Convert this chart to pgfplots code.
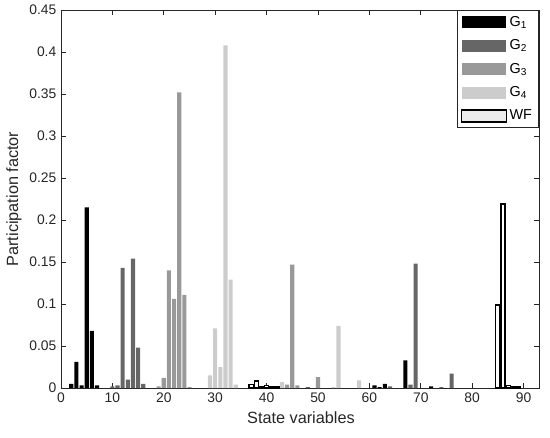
\documentclass[border=0pt]{standalone}
\usepackage{pgfplots}
\pgfplotsset{compat=1.18}
\usepackage{fontspec}
\setmainfont{Liberation Sans}
\definecolor{axc}{RGB}{38,38,38}
\definecolor{gA}{RGB}{0,0,0}
\definecolor{gB}{RGB}{102,102,102}
\definecolor{gC}{RGB}{153,153,153}
\definecolor{gD}{RGB}{204,204,204}
\begin{document}
\begin{tikzpicture}
\begin{axis}[
  scale only axis,
  width=358.5pt, height=283.5pt,
  xmin=0, xmax=93, ymin=0, ymax=0.45,
  xtick={0,10,...,90},
  ytick={0,0.05,...,0.45},
  scaled y ticks=false,
  yticklabel style={/pgf/number format/fixed, /pgf/number format/precision=2},
  /pgf/number format/assume math mode=true,
  tick label style={font=\fontsize{10.4}{12}\selectfont, text=axc},
  axis line style={axc, line width=0.5pt},
  tick style={axc, line width=0.5pt},
  major tick length=3.5pt,
  tick align=inside,
  xlabel={State variables},
  ylabel={Participation factor},
  every axis x label/.style={at={(axis description cs:0.502,-0.0794)}, anchor=center,
    font=\fontsize{12.2}{14}\selectfont, text=axc},
  every axis y label/.style={at={(axis description cs:-0.0983,0.5)}, rotate=90, anchor=center,
    font=\fontsize{12.2}{14}\selectfont, text=axc},
  legend style={at={(axis description cs:1,1)}, anchor=north east, draw=axc, line width=0.5pt,
    font=\fontsize{10.8}{12}\selectfont, inner xsep=3pt, inner ysep=2.5pt, row sep=4.5pt},
  legend cell align=left,
]
\addplot[ybar, bar width=0.8, bar shift=0pt, fill=gA, draw=none,
  legend image code/.code={\fill[gA] (0pt,-4.5pt) rectangle (33.5pt,4.5pt);}]
  coordinates {(2,0.005) (3,0.031) (4,0.003) (5,0.215) (6,0.068) (7,0.003)
    (61,0.003) (62,0.001) (63,0.005) (67,0.033) (72,0.002)};
\addlegendentry{G\textsubscript{1}}
\addplot[ybar, bar width=0.8, bar shift=0pt, fill=gB, draw=none,
  legend image code/.code={\fill[gB] (0pt,-4.5pt) rectangle (33.5pt,4.5pt);}]
  coordinates {(10,0.002) (11,0.003) (12,0.143) (13,0.010) (14,0.154) (15,0.048) (16,0.005)
    (48,0.001) (64,0.002) (68,0.004) (69,0.148) (74,0.001) (76,0.017)};
\addlegendentry{G\textsubscript{2}}
\addplot[ybar, bar width=0.8, bar shift=0pt, fill=gC, draw=none,
  legend image code/.code={\fill[gC] (0pt,-4.5pt) rectangle (33.5pt,4.5pt);}]
  coordinates {(19,0.002) (20,0.012) (21,0.140) (22,0.106) (23,0.352) (24,0.111) (25,0.001)
    (44,0.004) (45,0.147) (46,0.003) (50,0.013)};
\addlegendentry{G\textsubscript{3}}
\addplot[ybar, bar width=0.8, bar shift=0pt, fill=gD, draw=none,
  legend image code/.code={\fill[gD] (0pt,-4.5pt) rectangle (33.5pt,4.5pt);}]
  coordinates {(29,0.015) (30,0.071) (31,0.025) (32,0.408) (33,0.129) (34,0.004)
    (43,0.007) (53,0.001) (54,0.074) (58,0.009)};
\addlegendentry{G\textsubscript{4}}
\addplot[ybar, bar width=0.8, bar shift=0pt, fill=white, draw=black, line width=1pt,
  legend image code/.code={\draw[fill=gray!15, draw=black, line width=1pt] (0pt,-4.5pt) rectangle (33.5pt,4.5pt);}]
  coordinates {(37,0.0045) (38,0.0085) (39,0.001) (40,0.003) (41,0.001) (42,0.001)
    (85,0.099) (86,0.219) (87,0.003) (88,0.001) (89,0.001)};
\addlegendentry{WF}
\end{axis}
\pgfresetboundingbox
\path[use as bounding box] (-45.75pt,-36.75pt) rectangle (366.75pt,291pt);
\end{tikzpicture}
\end{document}
